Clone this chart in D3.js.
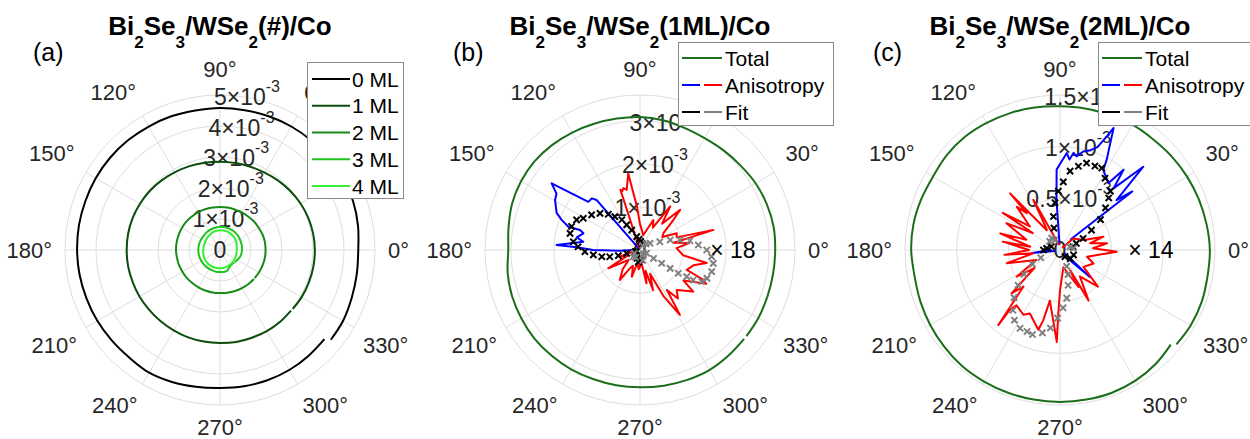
<!DOCTYPE html>
<html><head><meta charset="utf-8">
<script src="https://cdn.jsdelivr.net/npm/d3@7"></script>
<style>
body{margin:0;background:#fff}
svg{display:block}
text{font-family:"Liberation Sans",Arial,Helvetica,sans-serif}
</style>
</head><body>
<svg id="chart" width="1250" height="439"></svg>
<script>
// ================= DATA (radial values in units of 1e-3) =================
const thetaTicks = [0,30,60,90,120,150,180,210,240,270,300,330];
const rTicksA = [0,1,2,3,4,5];      const rMaxA = 5;
const rTicksB = [0,1,2,3];          const rMaxB = 3.6;
const rTicksC = [0,0.5,1,1.5];      const rMaxC = 1.5;

const titles = [
  [["Bi",0],["2",1],["Se",0],["3",1],["/WSe",0],["2",1],["(#)/Co",0]],
  [["Bi",0],["2",1],["Se",0],["3",1],["/WSe",0],["2",1],["(1ML)/Co",0]],
  [["Bi",0],["2",1],["Se",0],["3",1],["/WSe",0],["2",1],["(2ML)/Co",0]]
];
const panelLetters = ["(a)","(b)","(c)"];

// angles (deg) at which the near-circular curves were read
const totAng = [-39,-30,-20,-10,0,10,20,30,40,50,60,70,80,90,100,110,120,130,140,150,160,170,180,190,200,210,220,230,240,250,260,270,280,290,300,310,319.5];
const ml0 = [4.6,4.58,4.52,4.48,4.46,4.52,4.57,4.58,4.6,4.6,4.6,4.59,4.58,4.58,4.57,4.59,4.6,4.62,4.63,4.63,4.62,4.62,4.61,4.6,4.58,4.57,4.55,4.54,4.57,4.53,4.48,4.45,4.46,4.47,4.47,4.45,4.43];
const ml1 = [3.02,3.04,3.05,3.06,3.06,3.05,3.03,3.0,2.96,2.92,2.88,2.86,2.85,2.85,2.86,2.88,2.9,2.93,2.96,2.98,3.0,3.01,3.01,3.01,3.0,3.0,2.99,2.99,2.99,3.0,3.0,3.0,3.01,3.01,3.02,3.02,3.01];
const ml2 = [1.44,1.45,1.46,1.47,1.47,1.47,1.46,1.44,1.43,1.41,1.4,1.39,1.39,1.39,1.39,1.4,1.41,1.41,1.42,1.42,1.42,1.42,1.42,1.41,1.41,1.4,1.4,1.39,1.39,1.39,1.39,1.39,1.4,1.41,1.42,1.43,1.44];
const ml3 = [0.62,0.64,0.68,0.7,0.71,0.72,0.72,0.73,0.74,0.75,0.75,0.75,0.75,0.75,0.74,0.73,0.72,0.71,0.7,0.7,0.7,0.7,0.7,0.7,0.7,0.7,0.7,0.7,0.7,0.7,0.71,0.71,0.72,0.7,0.62,0.6,0.61];
const ml4 = [0.56,0.55,0.55,0.54,0.54,0.55,0.57,0.59,0.61,0.62,0.63,0.64,0.64,0.64,0.63,0.62,0.6,0.58,0.56,0.55,0.54,0.54,0.54,0.55,0.56,0.57,0.58,0.59,0.59,0.59,0.59,0.59,0.59,0.58,0.58,0.57,0.56];
const totalB = [3.18,3.17,3.15,3.14,3.14,3.15,3.13,3.1,3.05,3.02,3.0,3.02,3.06,3.09,3.1,3.12,3.15,3.18,3.2,3.19,3.16,3.1,3.06,3.12,3.16,3.18,3.2,3.2,3.2,3.19,3.19,3.19,3.2,3.21,3.22,3.2,3.18];
const totalC = [1.45,1.46,1.46,1.45,1.45,1.44,1.43,1.42,1.41,1.4,1.4,1.39,1.39,1.39,1.4,1.41,1.42,1.43,1.43,1.42,1.43,1.44,1.44,1.43,1.44,1.45,1.46,1.47,1.47,1.47,1.47,1.47,1.47,1.47,1.46,1.44,1.41];
const mlLabels = ["0 ML","1 ML","2 ML","3 ML","4 ML"];
const bcLabels = ["Total","Anisotropy","Fit"];

// anisotropy traces [angle deg, |value|] (x18 / x14 magnified as in the figure)
const blueB = [[125,0.02],[131,1.54],[133,1.64],[137,1.64],[143,2.57],[146,2.34],[149.5,2.29],[156,2.12],[159,1.95],[162,1.75],[161.6,1.47],[163.6,1.37],[168.7,1.5],[171.7,1.33],[176.6,1.94],[177.6,1.47],[180,1.09],[182,0.47],[181,0.16],[186,0.02]];
const redB = [[186,0.08],[198,0.49],[203,0.3],[210,0.85],[214,0.56],[221,0.35],[228,0.6],[236,0.84],[241,0.49],[246,0.4],[253,0.65],[259,0.3],[266,0.45],[270,0.39],[275,0.25],[281,0.79],[285,0.5],[288,0.98],[293,0.6],[297,1.2],[301.6,1.77],[304,1.12],[308,1.43],[312.5,1.26],[322,1.57],[325,1.23],[333,1.73],[335,1.58],[337,1.18],[344,1.29],[349,1.58],[353,1.01],[363,0.85],[368,1.15],[372,0.8],[375.3,1.77],[379,0.9],[384.5,0.94],[390,0.6],[395.6,0.67],[402,1.04],[405,1.32],[410,0.8],[415.3,1.23],[420,0.6],[426,0.76],[431.6,0.49],[438,0.35],[445,0.47],[450,0.6],[454,1.01],[457.5,1.49],[458.7,1.8],[462.5,1.43],[465,1.49],[467,1.42],[468,1.47],[470,0.05]];
const fitPosB = [[104,0.32],[112.6,0.5],[118,0.66],[121,0.82],[127,0.97],[131.6,1.11],[137.5,1.26],[144,1.39],[150.8,1.51],[154.6,1.63],[161,1.68],[166.6,1.67],[172.9,1.56],[177,1.44],[181.8,1.28],[186,1.09],[190,0.9],[192.6,0.72],[194.7,0.52],[194,0.32],[199,0.12],[70,0.15],[85,0.2],[95,0.25],[200,0.08],[250,0.2],[262,0.28],[275,0.22]];
const fitNegB = [[34,0.28],[22.5,0.5],[18.4,0.74],[14,0.96],[10.5,1.18],[4.9,1.36],[0,1.55],[354.7,1.67],[349.7,1.73],[343.2,1.74],[337,1.69],[333,1.61],[330.6,1.42],[330.3,1.25],[328.7,1.04],[328.6,0.82],[328.5,0.59],[328,0.37],[334,0.17],[45,0.2],[60,0.12],[210,0.15],[225,0.22],[240,0.2],[285,0.25],[300,0.15],[315,0.12]];

const blueC = [[95,0.05],[94,0.49],[92.4,0.78],[87,0.91],[86,0.94],[84,0.88],[82,0.95],[80,0.92],[76.7,0.98],[73,1.01],[70,1.06],[67.6,1.19],[66.3,1.29],[62.6,0.98],[61.6,0.88],[54,0.8],[51.6,0.99],[49,0.79],[45,1.14],[41.4,0.73],[39,0.9],[45,0.14],null,[178,0.08],[186,0.27],[190,0.05],null,[325,0.05],[318,0.39],[312,0.1]];
const redC = [[100,0.05],[118,0.55],[121,0.3],[123.7,0.23],[131.4,0.73],[132,0.48],[135,0.59],[142,0.37],[147,0.66],[148,0.31],[153.4,0.58],[163,0.34],[164.5,0.6],[173.7,0.29],[171.7,0.56],[180,0.3],[185,0.54],[187,0.26],[194,0.53],[203,0.25],[211.6,0.49],[215,0.3],[221.9,0.63],[225,0.5],[230.6,0.94],[230,0.76],[231.8,0.68],[240.5,0.72],[244.6,0.68],[254.8,0.8],[256.6,0.7],[258.7,0.5],[268,0.89],[268.5,0.61],[270,0.39],[281,0.17],[296.5,0.4],[296.6,0.22],[299.5,0.56],[306.9,0.32],[316,0.51],[324.4,0.28],[338,0.35],[346,0.27],[358.3,0.55],[363,0.32],[368.2,0.46],[372.6,0.3],[377,0.44],[383,0.25],[401,0.17],[405,0.03]];
const fitPosC = [[14,0.13],[22,0.17],[26.6,0.25],[32.2,0.36],[36.9,0.49],[42.8,0.6],[46.9,0.69],[49.4,0.75],[57.9,0.82],[63,0.89],[67.4,0.88],[73,0.88],[77.6,0.83],[82.7,0.77],[87.2,0.66],[91.6,0.57],[96,0.46],[101,0.33],[105.5,0.22],[173,0.13],[158,0.09],[180,0.16],[307,0.08],[320,0.13],[340,0.14]];
const fitNegC = [[202,0.2],[207,0.3],[214,0.42],[220,0.53],[226,0.64],[232,0.74],[237,0.81],[243,0.85],[248,0.85],[252,0.86],[258,0.82],[263,0.76],[268,0.66],[273,0.56],[278,0.47],[283,0.35],[288,0.25],[292,0.17],[140,0.13],[117,0.11],[125,0.14],[7,0.13],[18,0.1]];

const annB = {t:0, r:1.63, text:"\u00D7 18"};
const annC = {t:0, r:0.66, text:"\u00D7 14"};

// ================= STYLE / LAYOUT =================
const mlColors = ["#000000","#0b4d0b","#178a17","#1fc21f","#33ee33"];
const totalColor = "#1a6e1a", blueColor = "#0000ff", redColor = "#ff0000", fitK = "#000000", fitG = "#808080";
const R = 155, CY = 250, deg = Math.PI/180;
const svg = d3.select("#chart");
svg.append("rect").attr("width",1250).attr("height",439).attr("fill","#fff");

function panel(cx, rmax, rticks){
  const g = svg.append("g").attr("transform",`translate(${cx},${CY})`);
  const rs = d3.scaleLinear().domain([0,rmax]).range([0,R]);
  const rings = rticks.filter(t=>t>0);
  if (rings[rings.length-1] < rmax) rings.push(rmax);
  const grid = g.append("g").attr("stroke","#dedede").attr("stroke-width",1).attr("fill","none");
  grid.selectAll("circle").data(rings).join("circle").attr("r",d=>rs(d));
  grid.selectAll("line").data(thetaTicks).join("line")
    .attr("x1",0).attr("y1",0)
    .attr("x2",d=>d3.pointRadial((90-d)*deg,R)[0])
    .attr("y2",d=>d3.pointRadial((90-d)*deg,R)[1]);
  // theta labels
  const padOf = d => Math.sin(d*deg) < -0.01 ? 10 : 13;
  g.append("g").selectAll("text").data(thetaTicks).join("text")
    .attr("x",d=>d3.pointRadial((90-d)*deg,R+padOf(d))[0])
    .attr("y",d=>d3.pointRadial((90-d)*deg,R+padOf(d))[1])
    .attr("text-anchor",d=>{const c=Math.cos(d*deg);return c>0.01?"start":(c<-0.01?"end":"middle");})
    .attr("dominant-baseline",d=>{const s=Math.sin(d*deg);return s>0.01?"text-after-edge":(s<-0.01?"text-before-edge":"central");})
    .attr("font-size",22).attr("fill","#262626")
    .text(d=>d+"\u00B0");
  // r labels along 80 deg
  const rl = g.append("g").selectAll("text").data(rticks).join("text")
    .attr("x",d=>d3.pointRadial(10*deg,rs(d))[0])
    .attr("y",d=>d3.pointRadial(10*deg,rs(d))[1])
    .attr("text-anchor","middle").attr("dominant-baseline","central")
    .attr("font-size",23).attr("fill","#262626");
  rl.each(function(d){
    const t = d3.select(this);
    if (d===0){ t.text("0"); return; }
    t.append("tspan").text(d+"\u00D710");
    t.append("tspan").attr("dy",-11).attr("font-size",16).text("-3");
  });
  return {g, rs};
}

function radialLine(rs, curve){
  const l = d3.lineRadial().defined(d=>d!=null)
    .angle(d=>(90-d[0])*deg).radius(d=>rs(d[1]));
  return curve ? l.curve(curve) : l;
}
function drawLine(p, data, color, curve){
  p.g.append("path").datum(data).attr("d",radialLine(p.rs,curve)).attr("fill","none")
    .attr("stroke",color).attr("stroke-width",2).attr("stroke-linejoin","round");
}
const xPath = s => `M${-s},${-s}L${s},${s}M${-s},${s}L${s},${-s}`;
function drawMarkers(p, data, color){
  p.g.append("g").selectAll("path").data(data).join("path")
    .attr("transform",d=>{const q=d3.pointRadial((90-d[0])*deg,p.rs(d[1]));return `translate(${q[0]},${q[1]})`;})
    .attr("d",xPath(3.1)).attr("stroke",color).attr("stroke-width",2).attr("fill","none");
}
const zipT = vals => totAng.map((a,i)=>[a,vals[i]]);

function drawTitle(cx, parts, letter){
  const t = svg.append("text").attr("x",cx).attr("y",35).attr("text-anchor","middle")
    .attr("font-size",26).attr("font-weight","bold").attr("fill","#000");
  let prevSub = false;
  parts.forEach(([s,sub])=>{
    const ts = t.append("tspan").text(s);
    if (sub && !prevSub){ ts.attr("dy",13).attr("font-size",17); }
    else if (!sub && prevSub){ ts.attr("dy",-13); }
    prevSub = !!sub;
  });
  svg.append("text").attr("x",cx-187).attr("y",61).attr("font-size",25).attr("fill","#000").text(letter);
}

function drawLegend(x, y, w, h, rows, row0, step){
  const lg = svg.append("g");
  lg.append("rect").attr("x",x+0.5).attr("y",y+0.5).attr("width",w).attr("height",h)
    .attr("fill","#fff").attr("stroke","#8a8a8a").attr("stroke-width",1);
  rows.forEach((r,i)=>{
    const yy = row0 + i*step;
    r.segs.forEach(s=>{
      lg.append("line").attr("x1",x+s[0]).attr("x2",x+s[1]).attr("y1",yy).attr("y2",yy)
        .attr("stroke",s[2]).attr("stroke-width",2);
    });
    lg.append("text").attr("x",x+r.tx).attr("y",yy).attr("dominant-baseline","central")
      .attr("font-size",21).attr("fill","#000").text(r.label);
  });
}

// ================= PANEL A =================
const pA = panel(220, rMaxA, rTicksA);
[ml0,ml1,ml2,ml3,ml4].forEach((v,i)=>drawLine(pA, zipT(v), mlColors[i], d3.curveCatmullRom));
drawTitle(220, titles[0], panelLetters[0]);
drawLegend(307, 62, 96, 136,
  mlLabels.map((l,i)=>({label:l, tx:45, segs:[[5,43,mlColors[i]]]})), 79, 26.75);

// ================= PANEL B =================
const pB = panel(640, rMaxB, rTicksB);
drawLine(pB, zipT(totalB), totalColor, d3.curveCatmullRom);
drawLine(pB, blueB, blueColor);
drawLine(pB, redB, redColor);
drawMarkers(pB, fitPosB, fitK);
drawMarkers(pB, fitNegB, fitG);
{ const q = d3.pointRadial((90-annB.t)*deg, pB.rs(annB.r));
  pB.g.append("text").attr("x",q[0]).attr("y",q[1]).attr("dominant-baseline","central")
   .attr("font-size",23).attr("fill","#000").text(annB.text); }
drawTitle(640, titles[1], panelLetters[1]);
const bcRows = (lx)=>[
  {label:bcLabels[0], tx:lx+43, segs:[[lx,lx+40,totalColor]]},
  {label:bcLabels[1], tx:lx+43, segs:[[lx,lx+18,blueColor],[lx+22,lx+40,redColor]]},
  {label:bcLabels[2], tx:lx+43, segs:[[lx,lx+18,fitK],[lx+22,lx+40,fitG]]}
];
drawLegend(678, 42, 155, 83, bcRows(4), 58, 27);

// ================= PANEL C =================
const pC = panel(1060, rMaxC, rTicksC);
drawLine(pC, zipT(totalC), totalColor, d3.curveCatmullRom);
drawLine(pC, blueC, blueColor);
drawLine(pC, redC, redColor);
drawMarkers(pC, fitPosC, fitK);
drawMarkers(pC, fitNegC, fitG);
{ const q = d3.pointRadial((90-annC.t)*deg, pC.rs(annC.r));
  pC.g.append("text").attr("x",q[0]).attr("y",q[1]).attr("dominant-baseline","central")
   .attr("font-size",23).attr("fill","#000").text(annC.text); }
drawTitle(1060, titles[2], panelLetters[2]);
drawLegend(1098, 42, 155, 83, bcRows(4), 58, 27);
</script>
</body></html>
